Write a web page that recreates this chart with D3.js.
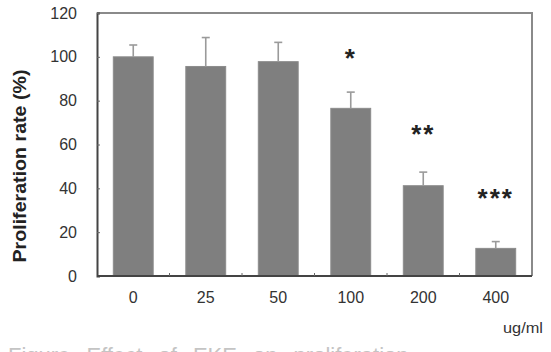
<!DOCTYPE html>
<html>
<head>
<meta charset="utf-8">
<script src="https://cdn.jsdelivr.net/npm/d3@7"></script>
<style>
  html, body { margin: 0; padding: 0; background: #fff; }
  svg { display: block; font-family: "Liberation Sans", Arial, sans-serif; }
</style>
</head>
<body>
<svg id="chart" width="551" height="352"></svg>
<script>
// ---- data ----
const categories = ["0", "25", "50", "100", "200", "400"];
const values = [100, 95.6, 97.8, 76.5, 41.2, 12.6];
const errors = [5.4, 13.2, 8.8, 7.4, 6.2, 3.1];
const significance = ["", "", "", "*", "**", "***"];
const sigLevels = [null, null, null, 101.5, 66.5, 37.5];
const yTicks = [0, 20, 40, 60, 80, 100, 120];
const xUnit = "ug/ml";
const yTitle = "Proliferation rate (%)";
const caption = "Figure   Effect of EKE on proliferation";

(function () {
// ---- layout ----
const svg = d3.select("#chart");
const mLeft = 97, mRight = 532, mTop = 13, mBottom = 276;

const x = d3.scaleBand().domain(categories).range([mLeft, mRight]).paddingInner(0.45).paddingOuter(0.225);
const y = d3.scaleLinear().domain([0, 120]).range([mBottom, mTop]);

// bars
svg.append("g").selectAll("rect").data(values).join("rect")
  .attr("x", (d, i) => x(categories[i]))
  .attr("width", x.bandwidth())
  .attr("y", d => y(d))
  .attr("height", d => y(0) - y(d))
  .attr("fill", "#7f7f7f")
  .attr("stroke", "#8c8c8c")
  .attr("stroke-width", 1);

// error bars (upward only)
const eg = svg.append("g").attr("stroke", "#9a9a9a").attr("stroke-width", 1.6);
values.forEach((v, i) => {
  const cx = x(categories[i]) + x.bandwidth() / 2;
  eg.append("line").attr("x1", cx).attr("x2", cx).attr("y1", y(v)).attr("y2", y(v + errors[i]));
  eg.append("line").attr("x1", cx - 4).attr("x2", cx + 4).attr("y1", y(v + errors[i])).attr("y2", y(v + errors[i]));
});

// frame: top and right (gray)
svg.append("path")
  .attr("d", `M${mLeft},${mTop}H${mRight}V${mBottom}`)
  .attr("fill", "none").attr("stroke", "#8a8a8a").attr("stroke-width", 2);

// y axis
const yAxis = d3.axisLeft(y).tickValues(yTicks).tickSize(-3).tickPadding(20);
const yg = svg.append("g").attr("transform", `translate(${mLeft},0)`).call(yAxis);
yg.select(".domain").attr("stroke", "#444").attr("stroke-width", 2);
yg.selectAll(".tick line").attr("stroke", "#666");
yg.selectAll(".tick text").attr("font-size", 16).attr("fill", "#333")
  .attr("font-family", "Liberation Sans, Arial, sans-serif");

// x axis
const xAxis = d3.axisBottom(x).tickSize(0).tickPadding(16);
const xg = svg.append("g").attr("transform", `translate(0,${mBottom})`).call(xAxis);
xg.select(".domain").attr("stroke", "#444").attr("stroke-width", 2).attr("d", `M${mLeft},0H${mRight}`);
xg.selectAll(".tick text").attr("font-size", 16).attr("fill", "#333")
  .attr("font-family", "Liberation Sans, Arial, sans-serif");
// inward ticks between categories
const step = x.step();
const boundaries = categories.slice(0, -1).map(c => x(c) + x.bandwidth() + (step - x.bandwidth()) / 2);
svg.append("g").selectAll("line").data(boundaries).join("line")
  .attr("x1", d => d).attr("x2", d => d)
  .attr("y1", mBottom).attr("y2", mBottom - 3)
  .attr("stroke", "#666").attr("stroke-width", 1);

// significance stars
const sigData = categories.map((c, i) => ({ c, s: significance[i], lvl: sigLevels[i] })).filter(d => d.s !== "");
svg.append("g").selectAll("text").data(sigData).join("text")
  .attr("x", d => x(d.c) + x.bandwidth() / 2)
  .attr("y", d => y(d.lvl))
  .attr("dy", "0.5em")
  .attr("text-anchor", "middle")
  .attr("font-size", 26)
  .attr("font-weight", "bold")
  .attr("letter-spacing", 2)
  .attr("fill", "#222")
  .text(d => d.s);

// y title
svg.append("text")
  .attr("transform", `translate(26,166) rotate(-90)`)
  .attr("text-anchor", "middle")
  .attr("font-size", 18)
  .attr("font-weight", "bold")
  .attr("fill", "#222")
  .attr("textLength", 193)
  .attr("lengthAdjust", "spacingAndGlyphs")
  .text(yTitle);

// x unit
svg.append("text")
  .attr("x", 543).attr("y", 333)
  .attr("text-anchor", "end")
  .attr("font-size", 15)
  .attr("fill", "#333")
  .attr("textLength", 40)
  .attr("lengthAdjust", "spacingAndGlyphs")
  .text(xUnit);

// caption (cut off at bottom, as in the source image)
svg.append("text")
  .attr("x", 8).attr("y", 363)
  .attr("font-size", 22)
  .attr("fill", "#c4c4c4")
  .attr("word-spacing", 10)
  .text(caption);
})();
</script>
</body>
</html>
